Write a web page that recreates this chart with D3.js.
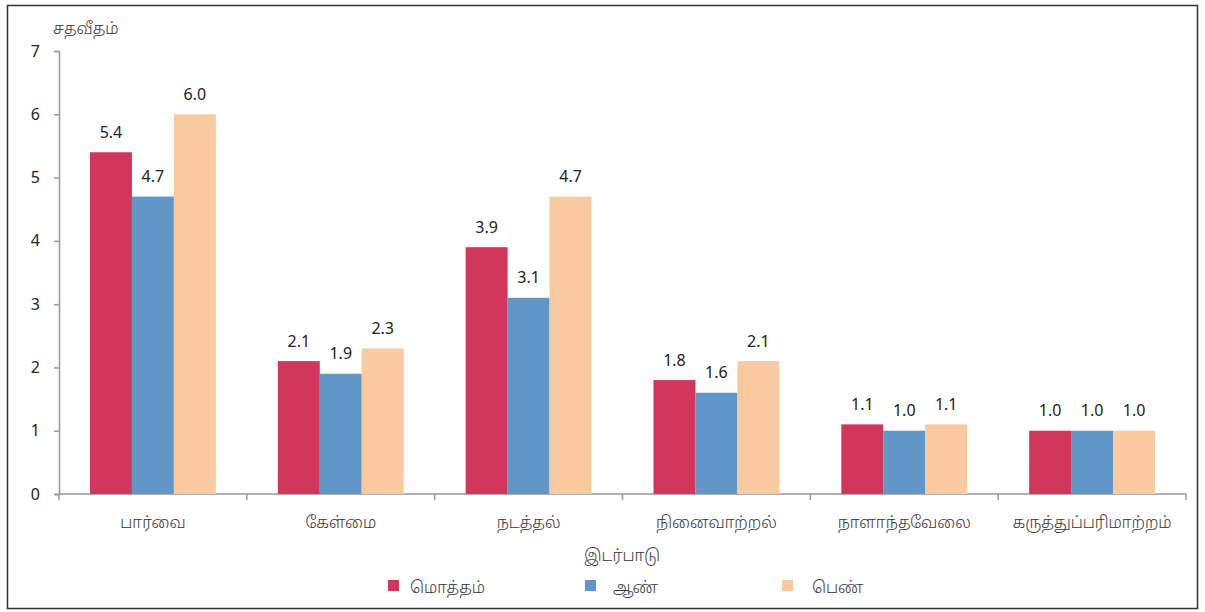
<!DOCTYPE html>
<html><head><meta charset="utf-8">
<script src="https://cdn.jsdelivr.net/npm/d3@7"></script>
<style>
body{margin:0;background:#fff;}
text{font-family:"Noto Sans","Liberation Sans",sans-serif;fill:#222;}
text.ta{font-family:"Noto Sans Tamil","Noto Sans",sans-serif;font-weight:300;fill:#333;}
</style></head>
<body><svg id="c" width="1205" height="612"></svg>
<script>
const categories=["பார்வை","கேள்மை","நடத்தல்","நினைவாற்றல்","நாளாந்தவேலை","கருத்துப்பரிமாற்றம்"];
const seriesNames=["மொத்தம்","ஆண்","பெண்"];
const total=[5.4,2.1,3.9,1.8,1.1,1.0];
const male=[4.7,1.9,3.1,1.6,1.0,1.0];
const female=[6.0,2.3,4.7,2.1,1.1,1.0];
const yTicks=[0,1,2,3,4,5,6,7];
const colors=["#D0375A","#6096C8","#F9CA9F"];
const series=[total,male,female];

const svg=d3.select("#c");
svg.append("rect").attr("x",7.5).attr("y",5.5).attr("width",1190).attr("height",603).attr("fill","#fff").attr("stroke","#333").attr("stroke-width",1.5);

const x=d3.scaleBand().domain(categories).range([59,1186]).paddingInner(0.33).paddingOuter(0.165);
const xs=d3.scaleBand().domain([0,1,2]).range([0,x.bandwidth()]);
const y=d3.scaleLinear().domain([0,7]).range([494,51]);

// y axis
const ya=svg.append("g").attr("transform","translate(59,0)").call(d3.axisLeft(y).tickValues(yTicks).tickSize(5).tickPadding(14).tickFormat(d3.format("d")));
ya.select(".domain").attr("stroke","#999").attr("stroke-width",1.5);
ya.selectAll(".tick line").attr("stroke","#999").attr("stroke-width",1.5);
ya.selectAll("text").style("font-size","16px").attr("fill","#111").style("font-family","Noto Sans");

// x axis
const xa=svg.append("g").attr("transform","translate(0,494)");
xa.append("line").attr("x1",59).attr("x2",1186).attr("stroke","#999").attr("stroke-width",1.5);
const bounds=categories.map((c,i)=>59+(i+1)*(1127/6));
xa.selectAll("line.tk").data([59,...bounds]).enter().append("line").attr("class","tk")
 .attr("x1",d=>d).attr("x2",d=>d).attr("y1",0).attr("y2",6).attr("stroke","#999").attr("stroke-width",1.5);
xa.selectAll("text").data(categories).enter().append("text").attr("class","ta")
 .attr("x",d=>x(d)+x.bandwidth()/2).attr("y",34).attr("text-anchor","middle")
 .style("font-size","16px").text(d=>d);

// bars
series.forEach((s,si)=>{
  const g=svg.append("g");
  g.selectAll("rect").data(s).enter().append("rect")
   .attr("x",(d,i)=>x(categories[i])+xs(si)).attr("width",xs.bandwidth())
   .attr("y",d=>y(d)).attr("height",d=>y(0)-y(d)).attr("fill",colors[si]);
  g.selectAll("text").data(s).enter().append("text")
   .attr("x",(d,i)=>x(categories[i])+xs(si)+xs.bandwidth()/2).attr("y",d=>y(d)-14.5)
   .attr("text-anchor","middle").style("font-size","16px").attr("fill","#111").text(d=>d.toFixed(1));
});

// y label
svg.append("text").attr("class","ta").attr("x",53).attr("y",34).style("font-size","16px").text("சதவீதம்");
// x title
svg.append("text").attr("class","ta").attr("x",622).attr("y",561).attr("text-anchor","middle").style("font-size","16px").text("இடர்பாடு");
// legend
const lx=[388,585,782];
seriesNames.forEach((n,i)=>{
  svg.append("rect").attr("x",lx[i]).attr("y",580).attr("width",11).attr("height",11).attr("fill",colors[i]);
  svg.append("text").attr("class","ta").attr("x",lx[i]+22+(i==2?8:i==1?6:0)).attr("y",593).style("font-size","16px").text(n);
});
</script></body></html>
